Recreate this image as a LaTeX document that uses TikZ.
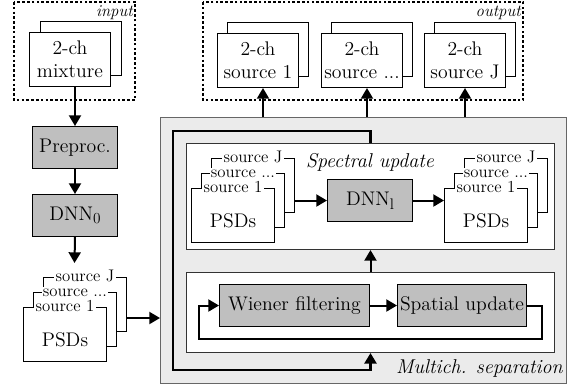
\documentclass[tikz,border=0pt]{standalone}
\usepackage{fontspec}
\usetikzlibrary{arrows.meta}
\newcommand{\mysub}[1]{\raisebox{-0.45ex}{\fontsize{11.5}{11.5}\selectfont #1}}
\begin{document}
\begin{tikzpicture}[x=0.75pt,y=-0.75pt,
  base/.style={line width=0.75pt, inner sep=0pt, anchor=north west, align=center,
    font=\fontsize{14.8}{17}\selectfont},
  wbox/.style={base, draw=black, fill=white},
  chbox/.style={wbox, minimum width=60.75pt, minimum height=40.5pt},
  psdbox/.style={wbox, minimum width=62.25pt, minimum height=40.5pt},
  gbox/.style={base, draw=black, fill=black!25, minimum height=31.5pt},
  lbl/.style={fill=white, inner xsep=1pt, inner ysep=0pt, text height=6.5pt, text depth=0.5pt,
    font=\fontsize{12.6}{12.6}\selectfont},
  dashbox/.style={draw=black, line width=1.1pt, dash pattern=on 2pt off 1.6pt},
  arr/.style={line width=1.5pt, -{Triangle[length=8pt,width=9pt]}},
  thickarr/.style={line width=2.2pt, -{Triangle[length=8pt,width=9pt]}},
  itl/.style={font=\fontsize{12.5}{12.5}\selectfont\itshape, inner sep=0pt},
  itb/.style={font=\fontsize{15}{15}\selectfont\itshape, inner sep=0pt}]
\useasboundingbox (0,0) rectangle (575,387);

% ---- input ----
\draw[dashbox] (14,2) rectangle (135,100);
\node[itl, anchor=east] (inlbl) at (133,13) {input};
\node[chbox] (inb) at (40,21) {};
\node[chbox] (inf) at (29,32) {2-ch\\mixture};

% ---- left column ----
\node[gbox, minimum width=63.75pt] (pre) at (32,126) {Preproc.};
\node[gbox, minimum width=63.75pt] (dnn0) at (32,194) {DNN\mysub{0}};
\draw[arr] (pre.north |- inf.south) -- (pre.north);
\draw[arr] (pre.south) -- (dnn0.north);

\node[psdbox] (lb) at (43,277) {};
\node[lbl] (lbJ) at (lb.north) {source J};
\node[psdbox] (lm) at (33,292) {};
\node[lbl] (lmD) at (lm.north) {source ...};
\node[psdbox] (lf) at (23,307) {\\[2pt]PSDs};
\node[lbl] (lf1) at (lf.north) {source 1};
\coordinate (d0end) at (74.5,263);
\draw[arr] (dnn0.south) -- (d0end);

% ---- big box ----
\node[base, draw=black!60, fill=black!8, minimum width=304.5pt, minimum height=199.5pt] (big) at (160,117) {};
\draw[arr] (lb.east |- 0,318) -- (big.west |- 0,318);
\node[itb, anchor=east] (mlbl) at (563,368) {Multich. separation};

% ---- spectral update ----
\node[wbox, draw=black!80, minimum width=276pt, minimum height=79.5pt] (spec) at (186,143) {};
\node[itb] (slbl) at (370,162) {Spectral update};
\node[psdbox] (slb) at (211,158) {};
\node[lbl] (slbJ) at (slb.north) {source J};
\node[psdbox] (slm) at (201,173) {};
\node[lbl] (slmD) at (slm.north) {source ...};
\node[psdbox] (slf) at (191,188) {\\[2pt]PSDs};
\node[lbl] (slf1) at (slf.north) {source 1};

\node[gbox, minimum width=63.75pt] (dnn1) at (327,179) {DNN\mysub{l}};

\node[psdbox] (srb) at (464,158) {};
\node[lbl] (srbJ) at (srb.north) {source J};
\node[psdbox] (srm) at (454,173) {};
\node[lbl] (srmD) at (srm.north) {source ...};
\node[psdbox] (srf) at (444,188) {\\[2pt]PSDs};
\node[lbl] (srf1) at (srf.north) {source 1};

\draw[arr] (slb.east |- dnn1) -- (dnn1.west);
\draw[arr] (dnn1.east) -- (srf.west |- dnn1);

% ---- lower box ----
\node[wbox, draw=black!80, minimum width=276pt, minimum height=60pt] (low) at (186,272) {};
\node[gbox, minimum width=112.5pt] (wie) at (219,284) {Wiener filtering};
\node[gbox, minimum width=96.75pt] (spa) at (397,284) {Spatial update};
\draw[arr] (wie.east) -- (spa.west);
\draw[arr] (spa.east) -- ++(15,0) -- ++(0,33.5) -- ++(-343,0) -- ++(0,-33.5) -- (wie.west);
\draw[arr] (low.north) -- (spec.south);

% ---- thick loop ----
\draw[thickarr] (spec.north) -- ++(0,-12) -- (173,131) -- (173,370) -| (low.south);

% ---- output ----
\draw[dashbox] (203,2) rectangle (523,100);
\node[itl, anchor=east] (outlbl) at (521,13) {output};
\node[chbox] (o1b) at (227,22) {};
\node[chbox] (o1f) at (217,33) {2-ch\\source 1};
\node[chbox] (o2b) at (331,22) {};
\node[chbox] (o2f) at (321,33) {2-ch\\source ...};
\node[chbox] (o3b) at (434,22) {};
\node[chbox] (o3f) at (424,33) {2-ch\\source J};
\draw[arr] (big.north -| 263,0) -- (o1f.south -| 263,0);
\draw[arr] (big.north -| 367,0) -- (o2f.south -| 367,0);
\draw[arr] (big.north -| 465,0) -- (o3f.south -| 465,0);
\end{tikzpicture}
\end{document}
